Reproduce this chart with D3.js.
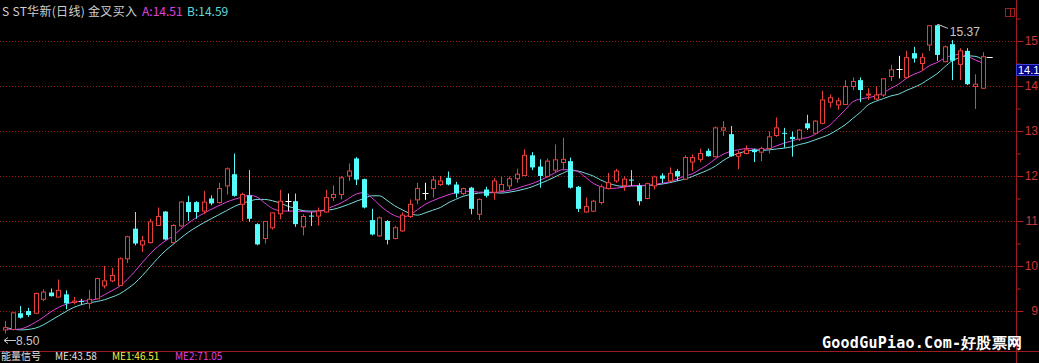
<!DOCTYPE html>
<html>
<head>
<meta charset="utf-8">
<script src="https://cdnjs.cloudflare.com/ajax/libs/d3/7.8.5/d3.min.js"></script>
<style>
  body { margin: 0; background: #000; overflow: hidden; }
  svg { display: block; }
</style>
</head>
<body>
<div id="chart"></div>
<script>
// daily candles (index 0 = oldest)
var opens = [8.58, 8.59, 8.95, 9.00, 8.95, 9.26, 9.41, 9.31, 9.37, 9.19, 9.22, 9.17, 9.27, 9.56, 9.67, 9.57, 10.16, 10.83, 10.47, 10.52,
  10.90, 11.21, 10.52, 10.89, 11.42, 11.42, 11.22, 11.50, 11.41, 11.78, 12.04, 11.37, 11.57, 10.93, 10.61, 10.85, 11.16, 11.44, 11.44, 10.87,
  11.12, 11.11, 11.20, 11.52, 11.59, 12.00, 12.39, 11.93, 11.02, 10.67, 11.00, 10.61, 10.78, 11.10, 11.47, 11.63, 11.72, 11.81, 11.96, 11.81,
  11.61, 11.74, 11.15, 11.70, 11.64, 11.67, 11.78, 11.94, 12.01, 12.46, 12.21, 11.99, 12.13, 12.30, 12.33, 11.76, 11.20, 11.22, 11.41, 11.72,
  11.89, 11.79, 11.92, 11.79, 11.50, 11.78, 12.01, 11.89, 12.11, 11.93, 12.31, 12.37, 12.56, 12.43, 13.02, 12.93, 12.44, 12.50, 12.59, 12.53,
  12.61, 12.90, 12.96, 12.87, 12.82, 13.17, 12.95, 13.17, 13.64, 13.58, 13.59, 13.99, 14.13, 13.80, 13.71, 13.80, 14.21, 14.38, 14.19, 14.73,
  14.50, 14.91, 15.35, 14.54, 14.93, 14.48, 14.78, 13.99, 13.95];
var highs = [8.78, 8.97, 9.11, 9.07, 9.41, 9.48, 9.50, 9.70, 9.46, 9.31, 9.27, 9.47, 9.74, 10.00, 9.96, 10.19, 10.67, 11.20, 10.67, 11.05,
  11.30, 11.22, 10.93, 11.44, 11.56, 11.44, 11.67, 11.57, 11.85, 12.19, 12.50, 11.63, 12.13, 10.95, 11.00, 11.19, 11.69, 11.61, 11.61, 11.15,
  11.20, 11.30, 11.69, 11.79, 12.00, 12.28, 12.42, 11.94, 11.27, 11.10, 11.02, 10.89, 11.19, 11.48, 11.85, 11.85, 12.00, 12.00, 12.10, 11.87,
  11.74, 11.76, 11.50, 11.76, 11.96, 11.99, 11.99, 12.16, 12.59, 12.53, 12.37, 12.39, 12.70, 12.85, 12.41, 11.78, 11.52, 11.47, 11.81, 12.07,
  12.16, 11.99, 12.13, 11.84, 11.85, 12.01, 12.06, 12.19, 12.15, 12.46, 12.48, 12.61, 12.61, 13.10, 13.22, 13.11, 12.56, 12.68, 12.61, 12.65,
  12.99, 13.30, 13.07, 12.99, 13.04, 13.36, 13.24, 13.89, 13.81, 13.74, 14.13, 14.19, 14.19, 13.95, 13.99, 14.17, 14.47, 14.67, 14.78, 14.87,
  14.73, 15.34, 15.37, 14.90, 15.02, 14.84, 14.84, 14.26, 14.75];
var lows = [8.50, 8.57, 8.83, 8.87, 8.93, 9.22, 9.32, 9.30, 9.04, 9.15, 9.14, 9.05, 9.26, 9.50, 9.64, 9.56, 10.07, 10.46, 10.31, 10.50,
  10.89, 10.57, 10.50, 10.87, 11.00, 11.05, 11.15, 11.35, 11.39, 11.59, 11.54, 11.00, 10.98, 10.46, 10.50, 10.81, 11.04, 11.22, 10.87, 10.68,
  10.89, 10.90, 11.19, 11.44, 11.48, 11.89, 11.80, 11.28, 10.68, 10.65, 10.48, 10.59, 10.76, 11.07, 11.37, 11.47, 11.52, 11.78, 11.79, 11.52,
  11.57, 11.15, 11.02, 11.52, 11.47, 11.63, 11.70, 11.85, 12.00, 12.13, 11.74, 11.96, 12.07, 12.15, 11.72, 11.20, 11.19, 11.20, 11.37, 11.70,
  11.85, 11.67, 11.78, 11.35, 11.48, 11.70, 11.84, 11.87, 11.89, 11.91, 12.11, 12.31, 12.43, 12.41, 12.89, 12.43, 12.15, 12.48, 12.31, 12.33,
  12.50, 12.87, 12.63, 12.43, 12.78, 13.02, 12.93, 13.15, 13.52, 13.47, 13.58, 13.91, 13.64, 13.69, 13.69, 13.76, 14.11, 14.17, 14.17, 14.52,
  14.33, 14.78, 14.56, 14.53, 14.13, 14.13, 14.02, 13.49, 13.93];
var closes = [8.63, 8.96, 8.85, 8.91, 9.39, 9.42, 9.33, 9.46, 9.17, 9.22, 9.20, 9.26, 9.72, 9.67, 9.79, 10.16, 10.65, 10.50, 10.56, 10.98,
  11.10, 10.59, 10.90, 11.42, 11.20, 11.20, 11.42, 11.39, 11.72, 12.16, 11.56, 11.59, 11.05, 10.48, 10.99, 11.18, 11.44, 11.44, 10.93, 11.10,
  11.11, 11.22, 11.52, 11.59, 11.96, 12.11, 11.92, 11.30, 10.70, 11.07, 10.58, 10.85, 11.13, 11.37, 11.72, 11.63, 11.91, 11.89, 11.81, 11.61,
  11.72, 11.27, 11.48, 11.56, 11.89, 11.81, 11.94, 12.04, 12.46, 12.19, 12.00, 12.33, 12.36, 12.37, 11.74, 11.27, 11.32, 11.44, 11.76, 11.85,
  12.11, 11.93, 11.91, 11.44, 11.83, 11.98, 11.94, 12.06, 11.99, 12.41, 12.41, 12.50, 12.44, 13.07, 13.07, 12.44, 12.50, 12.58, 12.53, 12.61,
  12.87, 13.07, 12.95, 12.82, 13.02, 13.06, 13.22, 13.69, 13.74, 13.67, 13.99, 14.10, 13.91, 13.82, 13.80, 14.16, 14.36, 14.38, 14.63, 14.61,
  14.63, 15.34, 14.69, 14.87, 14.56, 14.78, 14.04, 14.04, 14.65];

// the two averages (A magenta, B cyan) per candle
var lineA = [8.61, 8.59, 8.60, 8.66, 8.75, 8.86, 8.98, 9.08, 9.15, 9.20, 9.22, 9.23, 9.27, 9.36, 9.45, 9.55, 9.70, 9.88, 10.08, 10.27,
  10.43, 10.56, 10.67, 10.82, 10.95, 11.07, 11.17, 11.26, 11.34, 11.42, 11.48, 11.53, 11.57, 11.53, 11.40, 11.28, 11.23, 11.22, 11.22, 11.21,
  11.20, 11.21, 11.26, 11.33, 11.40, 11.50, 11.60, 11.63, 11.52, 11.36, 11.22, 11.12, 11.08, 11.14, 11.25, 11.37, 11.45, 11.52, 11.58, 11.63,
  11.66, 11.66, 11.64, 11.64, 11.64, 11.65, 11.68, 11.72, 11.78, 11.83, 11.90, 11.98, 12.07, 12.14, 12.14, 12.10, 11.97, 11.84, 11.76, 11.72,
  11.73, 11.75, 11.78, 11.79, 11.79, 11.81, 11.84, 11.87, 11.93, 12.00, 12.05, 12.15, 12.25, 12.38, 12.48, 12.55, 12.58, 12.61, 12.60, 12.59,
  12.61, 12.67, 12.73, 12.78, 12.83, 12.85, 12.92, 13.03, 13.13, 13.30, 13.47, 13.65, 13.71, 13.74, 13.78, 13.85, 13.95, 14.04, 14.17, 14.26,
  14.33, 14.45, 14.52, 14.62, 14.68, 14.70, 14.66, 14.58, 14.51];
var lineB = [8.64, 8.60, 8.58, 8.59, 8.62, 8.69, 8.79, 8.89, 8.99, 9.08, 9.14, 9.18, 9.21, 9.25, 9.31, 9.38, 9.49, 9.62, 9.79, 9.98,
  10.17, 10.34, 10.48, 10.62, 10.75, 10.86, 10.96, 11.05, 11.14, 11.23, 11.32, 11.39, 11.44, 11.48, 11.48, 11.45, 11.40, 11.33, 11.28, 11.23,
  11.22, 11.22, 11.24, 11.26, 11.31, 11.37, 11.44, 11.50, 11.56, 11.56, 11.46, 11.34, 11.25, 11.17, 11.13, 11.18, 11.24, 11.30, 11.40, 11.48,
  11.55, 11.59, 11.62, 11.63, 11.63, 11.62, 11.64, 11.67, 11.71, 11.76, 11.83, 11.90, 11.98, 12.06, 12.12, 12.11, 12.06, 12.00, 11.91, 11.84,
  11.79, 11.77, 11.78, 11.78, 11.79, 11.80, 11.82, 11.85, 11.89, 11.93, 11.99, 12.06, 12.13, 12.22, 12.34, 12.44, 12.50, 12.55, 12.57, 12.57,
  12.58, 12.60, 12.62, 12.65, 12.70, 12.74, 12.80, 12.86, 12.93, 13.03, 13.14, 13.28, 13.42, 13.58, 13.66, 13.72, 13.78, 13.82, 13.90, 13.97,
  14.05, 14.16, 14.27, 14.42, 14.56, 14.63, 14.67, 14.66, 14.59];

var priceTicks = [9, 10, 11, 12, 13, 14, 15];
var halfTicks = [9.5, 10.5, 11.5, 12.5, 13.5, 14.5, 15.5];
var titleParts = ['S ST华新(日线) 金叉买入', 'A:14.51', 'B:14.59'];
var bottomParts = ['能量信号', 'ME:43.58', 'ME1:46.51', 'ME2:71.05'];
var cursorLabel = '14.1';
var cursorPrice = 14.36;

var W = 1039, H = 363;
var RED = '#e8403c', CYAN = '#54fcfc', GRID = '#9a1c1c';

var svg = d3.select('#chart').append('svg')
  .attr('width', W)
  .attr('height', H)
  .style('background', '#000');

var x = d3.scaleLinear().domain([0, closes.length - 1]).range([5, 982.7]);
var y = d3.scaleLinear().domain([9, 15]).range([311, 41]);
var px = function (i) { return Math.round(x(i)) + 0.5; };

// dotted grid
svg.selectAll('line.grid').data(priceTicks).enter().append('line')
  .attr('class', 'grid')
  .attr('x1', 0).attr('x2', 1016)
  .attr('y1', function (d) { return Math.round(y(d)) + 0.5; })
  .attr('y2', function (d) { return Math.round(y(d)) + 0.5; })
  .attr('stroke', GRID)
  .attr('stroke-dasharray', '1,2');

// right axis
var axis = d3.axisRight(y).tickValues(priceTicks).tickSize(7).tickFormat('');
var axisG = svg.append('g').attr('transform', 'translate(1016.5,0)').call(axis);
axisG.select('.domain').remove();
axisG.selectAll('line').attr('stroke', '#b02020');
var minor = d3.axisRight(y).tickValues(halfTicks).tickSize(4).tickFormat('');
var minorG = svg.append('g').attr('transform', 'translate(1016.5,0)').call(minor);
minorG.select('.domain').remove();
minorG.selectAll('line').attr('stroke', '#b02020');

svg.append('line')
  .attr('x1', 1016.5).attr('x2', 1016.5).attr('y1', 0).attr('y2', H)
  .attr('stroke', '#a01c1c');
svg.append('line')
  .attr('x1', 0).attr('x2', W).attr('y1', 351.5).attr('y2', 351.5)
  .attr('stroke', '#a01c1c');

svg.selectAll('text.ylab').data(priceTicks).enter().append('text')
  .attr('class', 'ylab')
  .attr('x', 1038)
  .attr('y', function (d) { return y(d) + 4; })
  .attr('text-anchor', 'end')
  .attr('fill', '#c83838')
  .style('font', '12px "Liberation Sans", Arial, sans-serif')
  .text(function (d) { return d; });

// little box at top right
svg.append('rect').attr('x', 1005.5).attr('y', 8.5).attr('width', 9).attr('height', 8)
  .attr('fill', 'none').attr('stroke', '#a02020');
svg.append('line').attr('x1', 1010.5).attr('x2', 1010.5).attr('y1', 8.5).attr('y2', 16.5)
  .attr('stroke', '#a02020');

// moving averages
var lineGen = function (vals) {
  return d3.line()
    .x(function (d, i) { return x(i); })
    .y(function (d) { return y(d); })
    .curve(d3.curveMonotoneX)(vals);
};
svg.append('path').attr('d', lineGen(lineB))
  .attr('fill', 'none').attr('stroke', '#78dcdc').attr('stroke-width', 1);
svg.append('path').attr('d', lineGen(lineA))
  .attr('fill', 'none').attr('stroke', '#e040e0').attr('stroke-width', 1);

// candles
var idx = d3.range(closes.length);
var colorOf = function (i) {
  if (closes[i] > opens[i]) return RED;
  if (closes[i] < opens[i]) return CYAN;
  return '#ffffff';
};
var candles = svg.selectAll('g.candle').data(idx).enter().append('g').attr('class', 'candle');

candles.each(function (i) {
  var g = d3.select(this);
  var cx = px(i);
  var c = colorOf(i);
  var top = y(Math.max(opens[i], closes[i]));
  var bot = y(Math.min(opens[i], closes[i]));
  if (closes[i] > opens[i]) {
    g.append('line').attr('x1', cx).attr('x2', cx).attr('y1', y(highs[i])).attr('y2', top).attr('stroke', c);
    g.append('line').attr('x1', cx).attr('x2', cx).attr('y1', bot).attr('y2', y(lows[i])).attr('stroke', c);
    g.append('rect').attr('x', cx - 2).attr('y', top).attr('width', 4).attr('height', Math.max(1, bot - top))
      .attr('fill', '#000').attr('stroke', c);
  } else if (closes[i] < opens[i]) {
    g.append('line').attr('x1', cx).attr('x2', cx).attr('y1', y(highs[i])).attr('y2', y(lows[i])).attr('stroke', c);
    g.append('rect').attr('x', cx - 2.5).attr('y', top).attr('width', 5).attr('height', Math.max(1, bot - top))
      .attr('fill', c);
  } else {
    g.append('line').attr('x1', cx).attr('x2', cx).attr('y1', y(highs[i])).attr('y2', y(lows[i])).attr('stroke', c);
    g.append('line').attr('x1', cx - 3).attr('x2', cx + 3).attr('y1', Math.round(top) + 0.5).attr('y2', Math.round(top) + 0.5)
      .attr('stroke', c);
  }
});

// last close marker
var last = closes.length - 1;
svg.append('line')
  .attr('x1', x(last) + 4).attr('x2', x(last) + 10)
  .attr('y1', Math.round(y(closes[last])) + 0.5).attr('y2', Math.round(y(closes[last])) + 0.5)
  .attr('stroke', '#ffffff');

// max / min annotations
var hiIdx = d3.maxIndex(highs), loIdx = d3.minIndex(lows);
svg.append('line')
  .attr('x1', x(hiIdx) + 1).attr('y1', y(highs[hiIdx]))
  .attr('x2', x(hiIdx) + 11).attr('y2', y(highs[hiIdx]) + 4)
  .attr('stroke', '#c8c8c8');
svg.append('text')
  .attr('x', x(hiIdx) + 13).attr('y', y(highs[hiIdx]) + 12)
  .attr('fill', '#c8c8c8')
  .style('font', '12px "Liberation Sans", Arial, sans-serif')
  .text(highs[hiIdx].toFixed(2));
// arrow drawn as a line + head, then the value
var loY = Math.round(y(lows[loIdx])) + 7.5;
svg.append('line')
  .attr('x1', x(loIdx) - 1).attr('x2', x(loIdx) + 11).attr('y1', loY).attr('y2', loY)
  .attr('stroke', '#c8c8c8');
svg.append('path')
  .attr('d', 'M' + (x(loIdx) - 1) + ',' + loY + 'l4,-3M' + (x(loIdx) - 1) + ',' + loY + 'l4,3')
  .attr('fill', 'none').attr('stroke', '#c8c8c8');
svg.append('text')
  .attr('x', x(loIdx) + 11).attr('y', loY + 4)
  .attr('fill', '#c8c8c8')
  .style('font', '12px "Liberation Sans", Arial, sans-serif')
  .text(lows[loIdx].toFixed(2));

// cursor price box
svg.append('rect')
  .attr('x', 1016.5).attr('y', Math.round(y(cursorPrice)) - 5.5).attr('width', 23).attr('height', 11)
  .attr('fill', '#000088').attr('stroke', '#4040d0');
svg.append('text')
  .attr('x', 1018).attr('y', Math.round(y(cursorPrice)) + 4)
  .attr('fill', '#ffffff')
  .style('font', '11px "Liberation Sans", Arial, sans-serif')
  .text(cursorLabel);

// title
var titleFont = '12px "Noto Sans CJK SC", sans-serif';
svg.append('text').attr('x', 2).attr('y', 16).attr('fill', '#d0d0d0').style('font', titleFont)
  .attr('textLength', 135).text(titleParts[0]);
svg.append('text').attr('x', 142).attr('y', 16).attr('fill', '#e040e0').style('font', titleFont).text(titleParts[1]);
svg.append('text').attr('x', 187).attr('y', 16).attr('fill', '#60d8d8').style('font', titleFont).text(titleParts[2]);

// lower panel caption
var bx = [1, 55, 112, 175];
var bc = ['#e0e0e0', '#e0e0e0', '#f0f040', '#e040e0'];
var bottomFont = '10px "Noto Sans CJK SC", sans-serif';
bottomParts.forEach(function (t, k) {
  svg.append('text').attr('x', bx[k]).attr('y', 360).attr('fill', bc[k]).style('font', bottomFont).text(t);
});

// watermark
svg.append('text')
  .attr('x', 822).attr('y', 348)
  .attr('fill', '#ffffff')
  .style('font', 'bold 15px "DejaVu Sans Mono", monospace')
  .attr('textLength', 200)
  .text('GoodGuPiao.Com-好股票网');
</script>
</body>
</html>
